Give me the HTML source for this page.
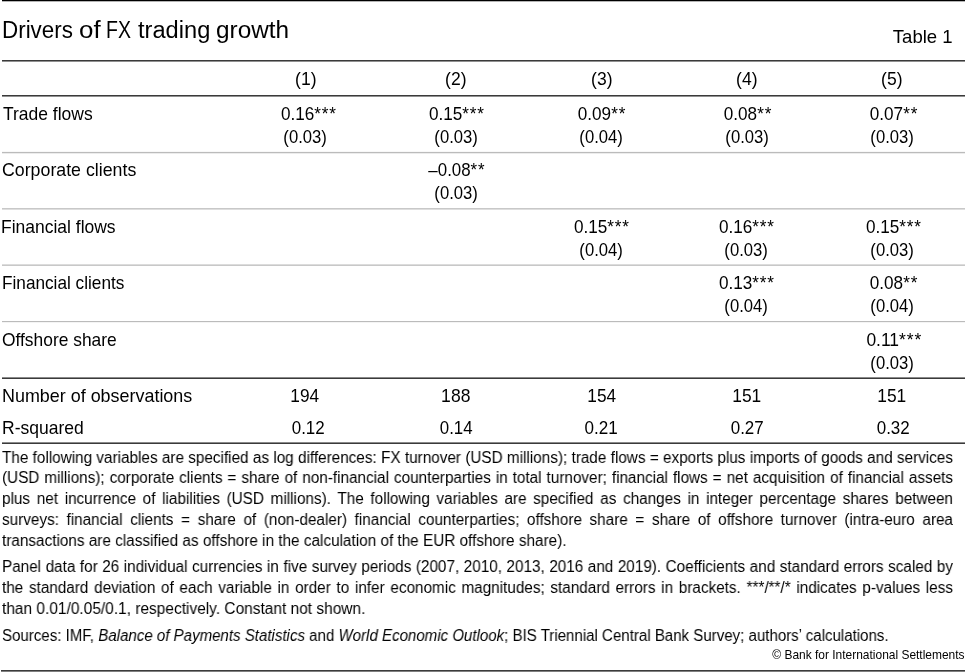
<!DOCTYPE html>
<html lang="en"><head><meta charset="utf-8"><title>Drivers of FX trading growth</title>
<style>
html,body{margin:0;padding:0;background:#fff;}
body{width:965px;height:672px;position:relative;overflow:hidden;font-family:"Liberation Sans", Arial, sans-serif;color:#000;}
.t{position:absolute;white-space:nowrap;will-change:transform;}
.f{position:absolute;white-space:nowrap;transform-origin:0 0;will-change:transform;}
.r{position:absolute;}
.a{letter-spacing:0.9px;}
.bm{display:inline-block;width:0;height:0;vertical-align:baseline;}
</style></head><body>
<div class="r" style="left:2px;top:0px;width:963px;height:1px;background:#000"></div>
<div class="r" style="left:2px;top:1px;width:963px;height:1px;background:#b4b4b4"></div>
<div class="r" style="left:2px;top:60px;width:963px;height:1px;background:#3a3a3a"></div>
<div class="r" style="left:2px;top:61px;width:963px;height:1px;background:#909090"></div>
<div class="r" style="left:2px;top:95px;width:963px;height:1px;background:#3a3a3a"></div>
<div class="r" style="left:2px;top:96px;width:963px;height:1px;background:#909090"></div>
<div class="r" style="left:2px;top:151px;width:963px;height:1px;background:#f8f8f8"></div>
<div class="r" style="left:2px;top:152px;width:963px;height:1px;background:#bbbbbb"></div>
<div class="r" style="left:2px;top:153px;width:963px;height:1px;background:#ececec"></div>
<div class="r" style="left:2px;top:208px;width:963px;height:1px;background:#c8c8c8"></div>
<div class="r" style="left:2px;top:209px;width:963px;height:1px;background:#dedede"></div>
<div class="r" style="left:2px;top:264px;width:963px;height:1px;background:#dcdcdc"></div>
<div class="r" style="left:2px;top:265px;width:963px;height:1px;background:#c8c8c8"></div>
<div class="r" style="left:2px;top:321px;width:963px;height:1px;background:#bbbbbb"></div>
<div class="r" style="left:2px;top:322px;width:963px;height:1px;background:#f4f4f4"></div>
<div class="r" style="left:2px;top:377px;width:963px;height:1px;background:#8a8a8a"></div>
<div class="r" style="left:2px;top:378px;width:963px;height:1px;background:#3a3a3a"></div>
<div class="r" style="left:2px;top:442px;width:963px;height:1px;background:#8a8a8a"></div>
<div class="r" style="left:2px;top:443px;width:963px;height:1px;background:#3a3a3a"></div>
<div class="r" style="left:1px;top:670px;width:964px;height:1px;background:#3c3c3c"></div>
<div class="r" style="left:1px;top:671px;width:964px;height:1px;background:#808080"></div>
<div class="t" id="tw0" style="left:2.00px;top:16px;font-size:23.0px;line-height:28px"><span style="display:inline-block;transform:scaleX(0.9738);transform-origin:left 50%">Drivers</span><i class="bm"></i></div>
<div class="t" id="tw1" style="left:79.27px;top:16px;font-size:23.0px;line-height:28px"><span style="display:inline-block;transform:scaleX(1.1261);transform-origin:left 50%">of</span><i class="bm"></i></div>
<div class="t" id="tw2" style="left:105.62px;top:16px;font-size:23.0px;line-height:28px"><span style="display:inline-block;transform:scaleX(0.8475);transform-origin:left 50%">FX</span><i class="bm"></i></div>
<div class="t" id="tw3" style="left:137.97px;top:16px;font-size:23.0px;line-height:28px"><span style="display:inline-block;transform:scaleX(1.0277);transform-origin:left 50%">trading</span><i class="bm"></i></div>
<div class="t" id="tw4" style="left:216.05px;top:16px;font-size:23.0px;line-height:28px"><span style="display:inline-block;transform:scaleX(1.0583);transform-origin:left 50%">growth</span><i class="bm"></i></div>
<div class="t" id="table1" style="right:11.94px;text-align:right;top:26px;font-size:18.2px;line-height:22px"><span style="display:inline-block;transform:scaleX(1.0205);transform-origin:right 50%">Table 1</span><i class="bm"></i></div>
<div class="t" id="h0" style="left:106.39px;width:400px;text-align:center;top:69px;font-size:17.7px;line-height:21px"><span style="display:inline-block;transform:scaleX(0.9915);transform-origin:center 50%">(1)</span><i class="bm"></i></div>
<div class="t" id="h1" style="left:256.19px;width:400px;text-align:center;top:69px;font-size:17.7px;line-height:21px"><span style="display:inline-block;transform:scaleX(0.9915);transform-origin:center 50%">(2)</span><i class="bm"></i></div>
<div class="t" id="h2" style="left:402.39px;width:400px;text-align:center;top:69px;font-size:17.7px;line-height:21px"><span style="display:inline-block;transform:scaleX(0.9915);transform-origin:center 50%">(3)</span><i class="bm"></i></div>
<div class="t" id="h3" style="left:546.99px;width:400px;text-align:center;top:69px;font-size:17.7px;line-height:21px"><span style="display:inline-block;transform:scaleX(0.9915);transform-origin:center 50%">(4)</span><i class="bm"></i></div>
<div class="t" id="h4" style="left:691.99px;width:400px;text-align:center;top:69px;font-size:17.7px;line-height:21px"><span style="display:inline-block;transform:scaleX(0.9915);transform-origin:center 50%">(5)</span><i class="bm"></i></div>
<div class="t" id="lab0" style="left:3.48px;top:104px;font-size:17.7px;line-height:21px"><span style="display:inline-block;transform:scaleX(0.9881);transform-origin:left 50%">Trade flows</span><i class="bm"></i></div>
<div class="t" id="lab1" style="left:1.60px;top:160px;font-size:17.7px;line-height:21px"><span style="display:inline-block;transform:scaleX(1.0042);transform-origin:left 50%">Corporate clients</span><i class="bm"></i></div>
<div class="t" id="lab2" style="left:1.35px;top:217px;font-size:17.7px;line-height:21px"><span style="display:inline-block;transform:scaleX(0.9878);transform-origin:left 50%">Financial flows</span><i class="bm"></i></div>
<div class="t" id="lab3" style="left:1.62px;top:273px;font-size:17.7px;line-height:21px"><span style="display:inline-block;transform:scaleX(0.9722);transform-origin:left 50%">Financial clients</span><i class="bm"></i></div>
<div class="t" id="lab4" style="left:2.00px;top:330px;font-size:17.7px;line-height:21px"><span style="display:inline-block;transform:scaleX(0.9829);transform-origin:left 50%">Offshore share</span><i class="bm"></i></div>
<div class="t" id="v00a" style="left:108.81px;width:400px;text-align:center;top:104px;font-size:17.7px;line-height:21px"><span style="display:inline-block;transform:scaleX(0.9691);transform-origin:center 50%">0.16<span class="a">***</span></span><i class="bm"></i></div>
<div class="t" id="v00b" style="left:104.74px;width:400px;text-align:center;top:127px;font-size:17.7px;line-height:21px"><span style="display:inline-block;transform:scaleX(0.9413);transform-origin:center 50%">(0.03)</span><i class="bm"></i></div>
<div class="t" id="v01a" style="left:257.21px;width:400px;text-align:center;top:104px;font-size:17.7px;line-height:21px"><span style="display:inline-block;transform:scaleX(0.9691);transform-origin:center 50%">0.15<span class="a">***</span></span><i class="bm"></i></div>
<div class="t" id="v01b" style="left:255.94px;width:400px;text-align:center;top:127px;font-size:17.7px;line-height:21px"><span style="display:inline-block;transform:scaleX(0.9413);transform-origin:center 50%">(0.03)</span><i class="bm"></i></div>
<div class="t" id="v02a" style="left:401.50px;width:400px;text-align:center;top:104px;font-size:17.7px;line-height:21px"><span style="display:inline-block;transform:scaleX(0.9683);transform-origin:center 50%">0.09<span class="a">**</span></span><i class="bm"></i></div>
<div class="t" id="v02b" style="left:401.34px;width:400px;text-align:center;top:127px;font-size:17.7px;line-height:21px"><span style="display:inline-block;transform:scaleX(0.9413);transform-origin:center 50%">(0.04)</span><i class="bm"></i></div>
<div class="t" id="v03a" style="left:547.90px;width:400px;text-align:center;top:104px;font-size:17.7px;line-height:21px"><span style="display:inline-block;transform:scaleX(0.9683);transform-origin:center 50%">0.08<span class="a">**</span></span><i class="bm"></i></div>
<div class="t" id="v03b" style="left:546.54px;width:400px;text-align:center;top:127px;font-size:17.7px;line-height:21px"><span style="display:inline-block;transform:scaleX(0.9413);transform-origin:center 50%">(0.03)</span><i class="bm"></i></div>
<div class="t" id="v04a" style="left:694.30px;width:400px;text-align:center;top:104px;font-size:17.7px;line-height:21px"><span style="display:inline-block;transform:scaleX(0.9683);transform-origin:center 50%">0.07<span class="a">**</span></span><i class="bm"></i></div>
<div class="t" id="v04b" style="left:691.74px;width:400px;text-align:center;top:127px;font-size:17.7px;line-height:21px"><span style="display:inline-block;transform:scaleX(0.9413);transform-origin:center 50%">(0.03)</span><i class="bm"></i></div>
<div class="t" id="v11a" style="left:257.44px;width:400px;text-align:center;top:160px;font-size:17.7px;line-height:21px"><span style="display:inline-block;transform:scaleX(0.9542);transform-origin:center 50%">–0.08<span class="a">**</span></span><i class="bm"></i></div>
<div class="t" id="v11b" style="left:255.54px;width:400px;text-align:center;top:183px;font-size:17.7px;line-height:21px"><span style="display:inline-block;transform:scaleX(0.9413);transform-origin:center 50%">(0.03)</span><i class="bm"></i></div>
<div class="t" id="v22a" style="left:402.21px;width:400px;text-align:center;top:217px;font-size:17.7px;line-height:21px"><span style="display:inline-block;transform:scaleX(0.9691);transform-origin:center 50%">0.15<span class="a">***</span></span><i class="bm"></i></div>
<div class="t" id="v22b" style="left:401.34px;width:400px;text-align:center;top:240px;font-size:17.7px;line-height:21px"><span style="display:inline-block;transform:scaleX(0.9413);transform-origin:center 50%">(0.04)</span><i class="bm"></i></div>
<div class="t" id="v23a" style="left:547.41px;width:400px;text-align:center;top:217px;font-size:17.7px;line-height:21px"><span style="display:inline-block;transform:scaleX(0.9691);transform-origin:center 50%">0.16<span class="a">***</span></span><i class="bm"></i></div>
<div class="t" id="v23b" style="left:545.74px;width:400px;text-align:center;top:240px;font-size:17.7px;line-height:21px"><span style="display:inline-block;transform:scaleX(0.9413);transform-origin:center 50%">(0.03)</span><i class="bm"></i></div>
<div class="t" id="v24a" style="left:694.01px;width:400px;text-align:center;top:217px;font-size:17.7px;line-height:21px"><span style="display:inline-block;transform:scaleX(0.9691);transform-origin:center 50%">0.15<span class="a">***</span></span><i class="bm"></i></div>
<div class="t" id="v24b" style="left:692.34px;width:400px;text-align:center;top:240px;font-size:17.7px;line-height:21px"><span style="display:inline-block;transform:scaleX(0.9413);transform-origin:center 50%">(0.03)</span><i class="bm"></i></div>
<div class="t" id="v33a" style="left:547.41px;width:400px;text-align:center;top:273px;font-size:17.7px;line-height:21px"><span style="display:inline-block;transform:scaleX(0.9691);transform-origin:center 50%">0.13<span class="a">***</span></span><i class="bm"></i></div>
<div class="t" id="v33b" style="left:545.74px;width:400px;text-align:center;top:296px;font-size:17.7px;line-height:21px"><span style="display:inline-block;transform:scaleX(0.9413);transform-origin:center 50%">(0.04)</span><i class="bm"></i></div>
<div class="t" id="v34a" style="left:694.30px;width:400px;text-align:center;top:273px;font-size:17.7px;line-height:21px"><span style="display:inline-block;transform:scaleX(0.9683);transform-origin:center 50%">0.08<span class="a">**</span></span><i class="bm"></i></div>
<div class="t" id="v34b" style="left:691.94px;width:400px;text-align:center;top:296px;font-size:17.7px;line-height:21px"><span style="display:inline-block;transform:scaleX(0.9413);transform-origin:center 50%">(0.04)</span><i class="bm"></i></div>
<div class="t" id="v44a" style="left:693.97px;width:400px;text-align:center;top:330px;font-size:17.7px;line-height:21px"><span style="display:inline-block;transform:scaleX(0.9861);transform-origin:center 50%">0.11<span class="a">***</span></span><i class="bm"></i></div>
<div class="t" id="v44b" style="left:691.94px;width:400px;text-align:center;top:353px;font-size:17.7px;line-height:21px"><span style="display:inline-block;transform:scaleX(0.9413);transform-origin:center 50%">(0.03)</span><i class="bm"></i></div>
<div class="t" id="nobs" style="left:2.47px;top:386px;font-size:17.7px;line-height:21px"><span style="display:inline-block;transform:scaleX(1.0132);transform-origin:left 50%">Number of observations</span><i class="bm"></i></div>
<div class="t" id="rsq" style="left:2.08px;top:418px;font-size:17.7px;line-height:21px"><span style="display:inline-block;transform:scaleX(0.9897);transform-origin:left 50%">R-squared</span><i class="bm"></i></div>
<div class="t" id="n0" style="left:105.24px;width:400px;text-align:center;top:386px;font-size:17.7px;line-height:21px"><span style="display:inline-block;transform:scaleX(0.9751);transform-origin:center 50%">194</span><i class="bm"></i></div>
<div class="t" id="n1" style="left:255.89px;width:400px;text-align:center;top:386px;font-size:17.7px;line-height:21px"><span style="display:inline-block;transform:scaleX(0.9917);transform-origin:center 50%">188</span><i class="bm"></i></div>
<div class="t" id="n2" style="left:402.44px;width:400px;text-align:center;top:386px;font-size:17.7px;line-height:21px"><span style="display:inline-block;transform:scaleX(0.9751);transform-origin:center 50%">154</span><i class="bm"></i></div>
<div class="t" id="n3" style="left:547.45px;width:400px;text-align:center;top:386px;font-size:17.7px;line-height:21px"><span style="display:inline-block;transform:scaleX(0.9825);transform-origin:center 50%">151</span><i class="bm"></i></div>
<div class="t" id="n4" style="left:691.65px;width:400px;text-align:center;top:386px;font-size:17.7px;line-height:21px"><span style="display:inline-block;transform:scaleX(0.9825);transform-origin:center 50%">151</span><i class="bm"></i></div>
<div class="t" id="r0" style="left:108.04px;width:400px;text-align:center;top:418px;font-size:17.7px;line-height:21px"><span style="display:inline-block;transform:scaleX(0.9593);transform-origin:center 50%">0.12</span><i class="bm"></i></div>
<div class="t" id="r1" style="left:256.08px;width:400px;text-align:center;top:418px;font-size:17.7px;line-height:21px"><span style="display:inline-block;transform:scaleX(0.9538);transform-origin:center 50%">0.14</span><i class="bm"></i></div>
<div class="t" id="r2" style="left:400.77px;width:400px;text-align:center;top:418px;font-size:17.7px;line-height:21px"><span style="display:inline-block;transform:scaleX(0.9651);transform-origin:center 50%">0.21</span><i class="bm"></i></div>
<div class="t" id="r3" style="left:547.04px;width:400px;text-align:center;top:418px;font-size:17.7px;line-height:21px"><span style="display:inline-block;transform:scaleX(0.9593);transform-origin:center 50%">0.27</span><i class="bm"></i></div>
<div class="t" id="r4" style="left:693.24px;width:400px;text-align:center;top:418px;font-size:17.7px;line-height:21px"><span style="display:inline-block;transform:scaleX(0.9593);transform-origin:center 50%">0.32</span><i class="bm"></i></div>
<div class="t" id="copy" style="right:0.64px;text-align:right;top:647px;font-size:13.1px;line-height:16px"><span style="display:inline-block;transform:scaleX(0.9129);transform-origin:right 50%">© Bank for International Settlements</span><i class="bm"></i></div>
<div class="f" id="f1_0" style="left:1.67647058823529px;top:448px;width:996.00px;font-size:16.0px;line-height:20px;text-align:justify;text-align-last:justify;transform:scaleX(0.95482)">The following variables are specified as log differences: FX turnover (USD millions); trade flows = exports plus imports of goods and services<i class="bm"></i></div>
<div class="f" id="f1_1" style="left:1.67647058823529px;top:468px;width:996.00px;font-size:16.0px;line-height:20px;text-align:justify;text-align-last:justify;transform:scaleX(0.95482)">(USD millions); corporate clients = share of non-financial counterparties in total turnover; financial flows = net acquisition of financial assets<i class="bm"></i></div>
<div class="f" id="f1_2" style="left:1.67647058823529px;top:489px;width:996.00px;font-size:16.0px;line-height:20px;text-align:justify;text-align-last:justify;transform:scaleX(0.95482)">plus net incurrence of liabilities (USD millions). The following variables are specified as changes in integer percentage shares between<i class="bm"></i></div>
<div class="f" id="f1_3" style="left:1.67647058823529px;top:510px;width:996.00px;font-size:16.0px;line-height:20px;text-align:justify;text-align-last:justify;transform:scaleX(0.95482)">surveys: financial clients = share of (non-dealer) financial counterparties; offshore share = share of offshore turnover (intra-euro area<i class="bm"></i></div>
<div class="f" id="f1_4" style="left:1.67647058823529px;top:531px;width:993.94px;font-size:16.0px;line-height:20px;text-align:left;transform:scaleX(0.95680)">transactions are classified as offshore in the calculation of the EUR offshore share).<i class="bm"></i></div>
<div class="f" id="f2_0" style="left:1.67647058823529px;top:557px;width:996.00px;font-size:16.0px;line-height:20px;text-align:justify;text-align-last:justify;transform:scaleX(0.95482)">Panel data for 26 individual currencies in five survey periods (2007, 2010, 2013, 2016 and 2019). Coefficients and standard errors scaled by<i class="bm"></i></div>
<div class="f" id="f2_1" style="left:1.67647058823529px;top:578px;width:996.00px;font-size:16.0px;line-height:20px;text-align:justify;text-align-last:justify;transform:scaleX(0.95482)">the standard deviation of each variable in order to infer economic magnitudes; standard errors in brackets. ***/**/* indicates p-values less<i class="bm"></i></div>
<div class="f" id="f2_2" style="left:1.67647058823529px;top:599px;width:983.93px;font-size:16.0px;line-height:20px;text-align:left;transform:scaleX(0.96653)">than 0.01/0.05/0.1, respectively. Constant not shown.<i class="bm"></i></div>
<div class="f" id="f3_0" style="left:1.67647058823529px;top:626px;width:1010.50px;font-size:16.0px;line-height:20px;text-align:left;transform:scaleX(0.94112)">Sources: IMF, <i>Balance of Payments Statistics</i> and <i>World Economic Outlook</i>; BIS Triennial Central Bank Survey; authors’ calculations.<i class="bm"></i></div>
</body></html>
